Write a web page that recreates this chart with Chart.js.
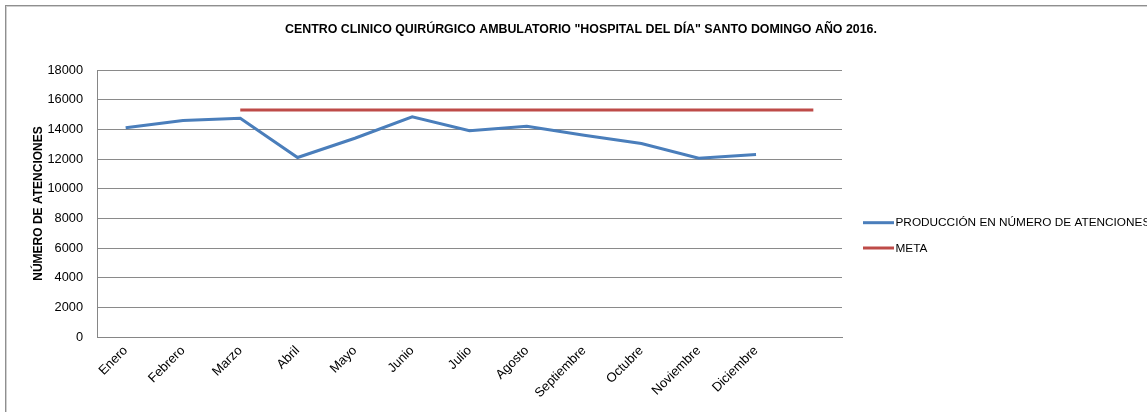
<!DOCTYPE html>
<html>
<head>
<meta charset="utf-8">
<script src="https://cdn.jsdelivr.net/npm/chart.js@4/dist/chart.umd.min.js"></script>
<style>
  html, body { margin: 0; padding: 0; background: #fff; overflow: hidden; }
  #frame { position: absolute; left: 5px; top: 5px; width: 1160px; height: 420px;
           border-left: 1px solid #8f8f8f; border-top: 1px solid #8f8f8f;
           box-shadow: inset 1px 1px 0 #d0d0d0; }
  #c { position: absolute; left: 6px; top: 6px; }
</style>
</head>
<body>
<div id="frame"></div>
<canvas id="c" width="1150" height="406"></canvas>
<script>
const categories = ['Enero','Febrero','Marzo','Abril','Mayo','Junio','Julio','Agosto','Septiembre','Octubre','Noviembre','Diciembre',''];
const produccion = [14100, 14600, 14750, 12100, 13400, 14850, 13900, 14200, 13600, 13050, 12050, 12300, null];
const meta = [null, null, 15300, 15300, 15300, 15300, 15300, 15300, 15300, 15300, 15300, 15300, 15300];
const yTicks = [0, 2000, 4000, 6000, 8000, 10000, 12000, 14000, 16000, 18000];
const seriesNames = ['PRODUCCIÓN EN NÚMERO DE ATENCIONES', 'META'];
const titleText = 'CENTRO CLINICO QUIRÚRGICO AMBULATORIO "HOSPITAL DEL DÍA" SANTO DOMINGO AÑO 2016.';
const yTitle = 'NÚMERO DE ATENCIONES';

const FONT = "'Liberation Sans', Arial, sans-serif";

const decorPlugin = {
  id: 'decor',
  afterDraw(chart) {
    const ctx = chart.ctx;
    ctx.save();
    // title centred on the whole chart frame
    ctx.fillStyle = '#000';
    ctx.font = 'bold 12.4px ' + FONT;
    ctx.textAlign = 'center';
    ctx.textBaseline = 'middle';
    ctx.fillText(titleText, chart.width / 2, 23.5);
    // legend
    const rows = [216.7, 242];
    chart.data.datasets.forEach((ds, i) => {
      const y = rows[i];
      ctx.strokeStyle = ds.borderColor;
      ctx.lineWidth = 3;
      ctx.lineCap = 'butt';
      ctx.beginPath();
      ctx.moveTo(857, y);
      ctx.lineTo(888, y);
      ctx.stroke();
      ctx.fillStyle = '#000';
      ctx.font = '11.8px ' + FONT;
      ctx.textBaseline = 'middle';
      ctx.textAlign = 'left';
      ctx.fillText(ds.label, 889.5, y + 0.5);
    });
    ctx.restore();
  }
};

new Chart(document.getElementById('c'), {
  type: 'line',
  data: {
    labels: categories,
    datasets: [
      { label: seriesNames[0], data: produccion, borderColor: '#4A7EBB', backgroundColor: '#4A7EBB',
        borderWidth: 3, pointRadius: 0, tension: 0, spanGaps: false },
      { label: seriesNames[1], data: meta, borderColor: '#BE4B48', backgroundColor: '#BE4B48',
        borderWidth: 3, pointRadius: 0, tension: 0, spanGaps: false }
    ]
  },
  options: {
    responsive: false,
    animation: false,
    devicePixelRatio: 1,
    layout: { padding: { left: 0, right: 314, top: 64, bottom: 0 } },
    plugins: {
      legend: { display: false },
      tooltip: { enabled: false },
      title: { display: false }
    },
    scales: {
      x: {
        offset: true,
        grid: { display: false, drawTicks: false },
        border: { display: true, color: '#868686', width: 1 },
        ticks: {
          color: '#000', autoSkip: false, maxRotation: 45, minRotation: 45, padding: 6,
          font: { family: FONT, size: 13 }
        },
        afterFit(s) { s.height = 75; }
      },
      y: {
        min: 0, max: 18000,
        afterBuildTicks(s) { s.ticks = yTicks.map(v => ({ value: v })); },
        grid: { color: '#8a8a8a', lineWidth: 1, drawTicks: false },
        border: { display: true, color: '#868686', width: 1 },
        ticks: { color: '#000', padding: 14, font: { family: FONT, size: 12.8 },
                 callback: (v) => String(v) },
        title: {
          display: true, text: yTitle, color: '#000',
          font: { family: FONT, size: 12, weight: 'bold', lineHeight: 1.2 },
          padding: { top: 25.5, bottom: 0 }
        },
        afterFit(s) { s.width = 91; }
      }
    }
  },
  plugins: [decorPlugin]
});
</script>
</body>
</html>
